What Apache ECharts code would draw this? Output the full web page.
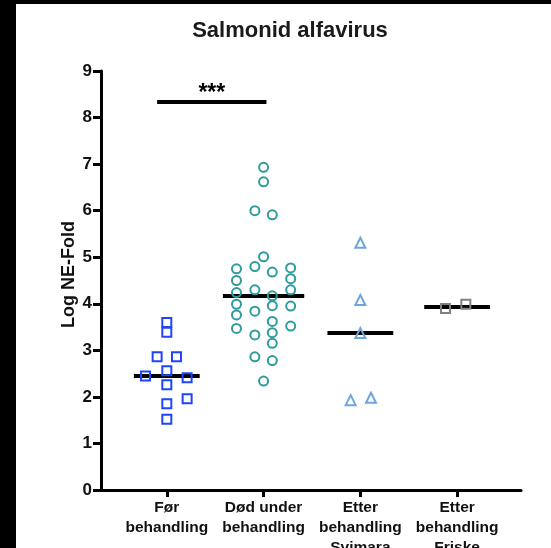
<!DOCTYPE html>
<html>
<head>
<meta charset="utf-8">
<script src="https://cdn.jsdelivr.net/npm/echarts@6/dist/echarts.min.js"></script>
<style>
html,body{margin:0;padding:0;background:#fff;}
#chart{width:551px;height:548px;}
</style>
</head>
<body>
<div id="chart"></div>
<script>
// ---- data ----
const categories = ['Før\nbehandling', 'Død under\nbehandling', 'Etter\nbehandling\nSvimara', 'Etter\nbehandling\nFriske'];
const yTicks = [0, 1, 2, 3, 4, 5, 6, 7, 8, 9];

// Før behandling (squares)
const forValues  = [3.60, 3.39, 2.86, 2.86, 2.56, 2.45, 2.41, 2.26, 1.96, 1.85, 1.52];
const forJitter  = [0, 0, -0.10, 0.10, 0, -0.22, 0.21, 0, 0.21, 0, 0];

// Død under behandling (circles)
const dodValues = [6.93, 6.62, 6.00, 5.91, 5.01, 4.75, 4.80, 4.68, 4.77, 4.50, 4.54, 4.24, 4.30, 4.30, 4.17,
                   3.99, 3.96, 3.95, 3.76, 3.84, 3.62, 3.47, 3.52, 3.38, 3.33, 3.15, 2.86, 2.78, 2.34];
const dodJitter = [0, 0, -0.09, 0.09, 0, -0.28, -0.09, 0.09, 0.28, -0.28, 0.28, -0.28, -0.09, 0.28, 0.09,
                   -0.28, 0.09, 0.28, -0.28, -0.09, 0.09, -0.28, 0.28, 0.09, -0.09, 0.09, -0.09, 0.09, 0];

// Etter behandling Svimara (triangles)
const svimaraValues = [5.31, 4.08, 3.37, 1.93, 1.98];
const svimaraJitter = [0, 0, 0, -0.10, 0.11];

// Etter behandling Friske (grey squares)
const friskeValues = [3.90, 3.99];
const friskeJitter = [-0.12, 0.09];

// significance bracket
const sigFrom = 0.9, sigTo = 2.03, sigLevel = 8.33;
const sigText = '***';

// ---- helpers ----
function median(arr) {
  const s = arr.slice().sort((a, b) => a - b);
  const n = s.length;
  return n % 2 ? s[(n - 1) / 2] : (s[n / 2 - 1] + s[n / 2]) / 2;
}
function points(groupIndex, values, jitter) {
  return values.map((v, i) => [groupIndex + 1 + jitter[i], v]);
}
const groups = [
  { values: forValues, jitter: forJitter, symbol: 'rect', color: '#1f45fc', size: 9, half: 0.34 },
  { values: dodValues, jitter: dodJitter, symbol: 'circle', color: '#2f9c9c', size: 9, half: 0.42 },
  { values: svimaraValues, jitter: svimaraJitter, symbol: 'triangle', color: '#6fa6da', size: 10, half: 0.34 },
  { values: friskeValues, jitter: friskeJitter, symbol: 'rect', color: '#808080', size: 9, half: 0.34 }
];

const FONT = '"Liberation Sans", Arial, sans-serif';
const chart = echarts.init(document.getElementById('chart'), null, { renderer: 'canvas' });

const series = [];
series.push({
  type: 'lines',
  coordinateSystem: 'cartesian2d',
  z: 1,
  silent: true,
  lineStyle: { color: '#000', width: 4, opacity: 1 },
  data: groups.map((g, i) => ({
    coords: [[i + 1 - g.half, median(g.values)], [i + 1 + g.half, median(g.values)]]
  }))
});
series.push({
  type: 'lines',
  coordinateSystem: 'cartesian2d',
  z: 1,
  silent: true,
  lineStyle: { color: '#000', width: 4, opacity: 1 },
  label: {
    show: true,
    position: 'middle',
    formatter: sigText,
    color: '#000',
    fontFamily: FONT,
    fontWeight: 'bold',
    fontSize: 23,
    distance: -3
  },
  data: [{ coords: [[sigFrom, sigLevel], [sigTo, sigLevel]] }]
});
groups.forEach((g, i) => {
  series.push({
    type: 'scatter',
    z: 3,
    symbol: g.symbol,
    symbolSize: g.size,
    itemStyle: { color: 'rgba(0,0,0,0)', borderColor: g.color, borderWidth: 2, opacity: 1 },
    data: points(i, g.values, g.jitter)
  });
});

chart.setOption({
  animation: false,
  backgroundColor: '#ffffff',
  title: {
    text: 'Salmonid alfavirus',
    left: 285,
    textAlign: 'center',
    top: 15,
    textStyle: { fontFamily: FONT, fontWeight: 'bold', fontSize: 22, color: '#1a1a1a' }
  },
  grid: { left: 101, right: 30, top: 71, bottom: 58, containLabel: false, outerBoundsMode: 'none' },
  xAxis: {
    type: 'value',
    min: 0.32,
    max: 4.66,
    splitLine: { show: false },
    axisLine: { show: true, lineStyle: { color: '#000', width: 3 } },
    axisTick: { show: true, customValues: [1, 2, 3, 4], length: 7, lineStyle: { color: '#000', width: 3 } },
    axisLabel: {
      customValues: [1, 2, 3, 4],
      formatter: v => categories[Math.round(v) - 1],
      margin: 8,
      color: '#111',
      fontFamily: FONT,
      fontWeight: 'bold',
      fontSize: 15.5,
      lineHeight: 20,
      align: 'center',
      verticalAlign: 'top'
    }
  },
  yAxis: {
    type: 'value',
    min: 0,
    max: 9,
    interval: 1,
    name: 'Log NE-Fold',
    nameLocation: 'middle',
    nameGap: 23,
    nameRotate: 90,
    nameMoveOverlap: false,
    nameTextStyle: { fontFamily: FONT, fontWeight: 'bold', fontSize: 18, color: '#111', padding: [0, 0, 0, 12] },
    splitLine: { show: false },
    axisLine: { show: true, lineStyle: { color: '#000', width: 3 } },
    axisTick: { show: true, length: 8, lineStyle: { color: '#000', width: 3 } },
    axisLabel: {
      formatter: v => String(yTicks[Math.round(v)]),
      margin: 9,
      color: '#111',
      fontFamily: FONT,
      fontWeight: 'bold',
      fontSize: 17
    }
  },
  graphic: [
    { type: 'rect', left: 0, top: 0, shape: { width: 16, height: 548 }, style: { fill: '#000' }, silent: true },
    { type: 'rect', left: 0, top: 0, shape: { width: 551, height: 4 }, style: { fill: '#000' }, silent: true }
  ],
  series: series
});
</script>
</body>
</html>
